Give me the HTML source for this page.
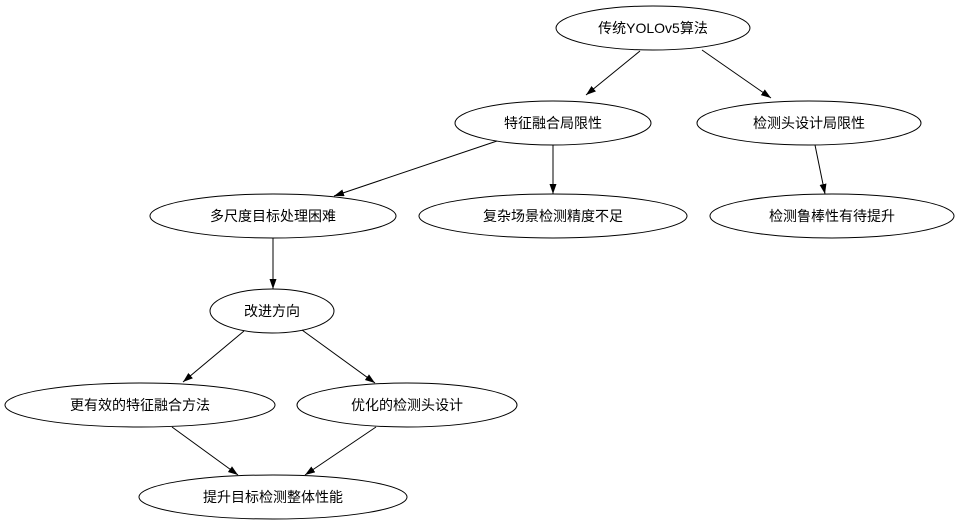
<!DOCTYPE html>
<html><head><meta charset="utf-8"><style>
html,body{margin:0;padding:0;background:#fff;}
svg{display:block;}
text{font-family:"Liberation Sans","Noto Sans CJK SC",sans-serif;font-size:14px;fill:#000;text-anchor:middle;dominant-baseline:central;}
ellipse{fill:none;stroke:#000;stroke-width:1;}
line{stroke:#000;stroke-width:1;}
</style></head><body>
<svg width="960" height="526" viewBox="0 0 960 526" xmlns="http://www.w3.org/2000/svg">
<defs><marker id="a" markerUnits="userSpaceOnUse" markerWidth="11" markerHeight="8" refX="10" refY="3.5" orient="auto"><path d="M0,0 L10,3.5 L0,7 z" fill="#000"/></marker></defs>
<ellipse cx="653" cy="28" rx="97" ry="22"/><text x="653" y="28">传统YOLOv5算法</text>
<ellipse cx="553" cy="123" rx="98" ry="22"/><text x="553" y="123">特征融合局限性</text>
<ellipse cx="809" cy="123" rx="112" ry="22"/><text x="809" y="123">检测头设计局限性</text>
<ellipse cx="273" cy="216" rx="123" ry="22"/><text x="273" y="216">多尺度目标处理困难</text>
<ellipse cx="553" cy="216" rx="134" ry="22"/><text x="553" y="216">复杂场景检测精度不足</text>
<ellipse cx="832" cy="216" rx="122" ry="22"/><text x="832" y="216">检测鲁棒性有待提升</text>
<ellipse cx="272" cy="311" rx="62" ry="22"/><text x="272" y="311">改进方向</text>
<ellipse cx="140" cy="405" rx="135" ry="22"/><text x="140" y="405">更有效的特征融合方法</text>
<ellipse cx="407" cy="405" rx="110" ry="22"/><text x="407" y="405">优化的检测头设计</text>
<ellipse cx="273" cy="497" rx="134" ry="22"/><text x="273" y="497">提升目标检测整体性能</text>
<line x1="640" y1="51" x2="586" y2="95" marker-end="url(#a)"/>
<line x1="702" y1="50" x2="771" y2="98" marker-end="url(#a)"/>
<line x1="497" y1="141" x2="334" y2="196" marker-end="url(#a)"/>
<line x1="553" y1="145" x2="553" y2="194" marker-end="url(#a)"/>
<line x1="815" y1="145" x2="825" y2="194" marker-end="url(#a)"/>
<line x1="273" y1="238" x2="273" y2="289" marker-end="url(#a)"/>
<line x1="244" y1="331" x2="183" y2="382" marker-end="url(#a)"/>
<line x1="302" y1="330" x2="375" y2="383" marker-end="url(#a)"/>
<line x1="172" y1="427" x2="238" y2="475" marker-end="url(#a)"/>
<line x1="376" y1="427" x2="305" y2="475" marker-end="url(#a)"/>
</svg>
</body></html>
